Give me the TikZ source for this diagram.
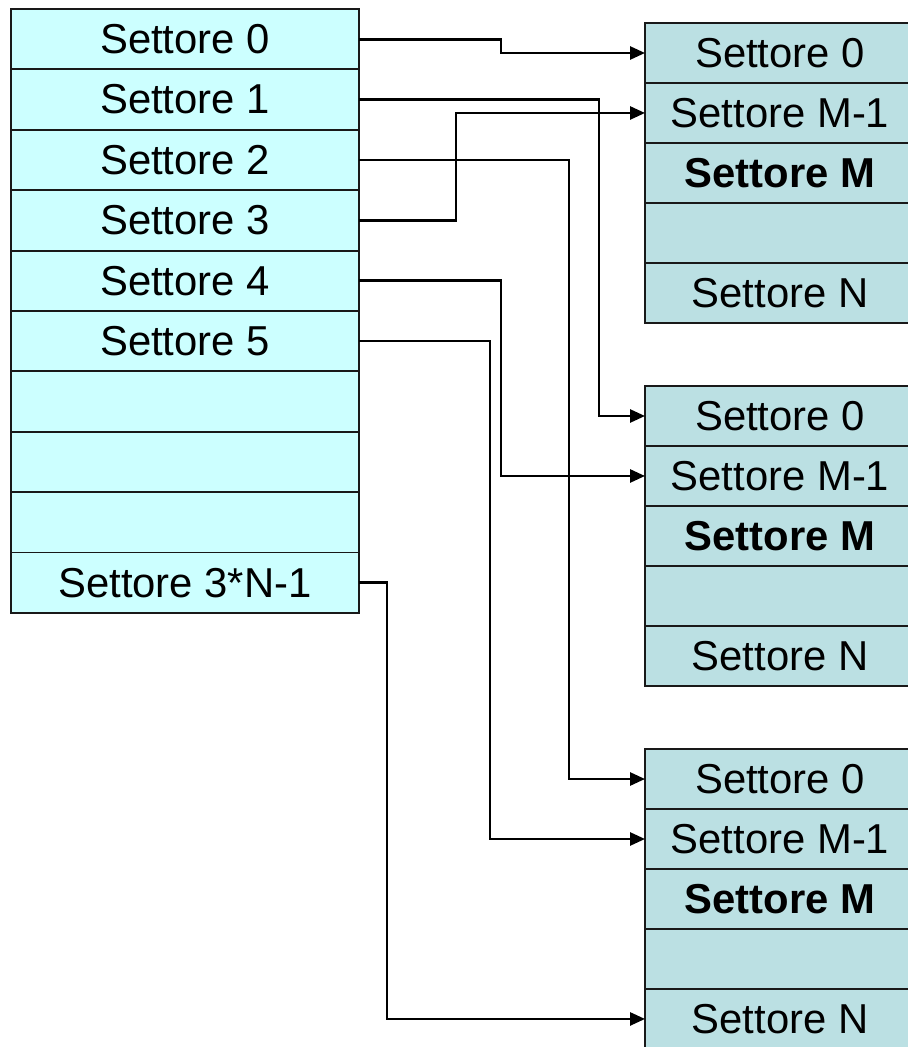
\documentclass[tikz,border=0pt]{standalone}
\usepackage{fontspec}
\setmainfont{Liberation Sans}
\usepackage{tikz}
\usetikzlibrary{positioning, arrows.meta}
\definecolor{diskfill}{HTML}{CCFFFF}
\definecolor{partfill}{HTML}{BBE0E3}

\begin{document}
\begin{tikzpicture}[
        x=0.02cm, y=-0.02cm,
        sec/.style={rectangle,draw=black!90,line width=1.1pt,outer sep=0pt,inner sep=0pt,
          fill=diskfill,minimum width=6.96cm,minimum height=1.208cm,
          font=\fontsize{23.8}{28}\selectfont},
        psec/.style={sec,fill=partfill,minimum width=5.4cm,minimum height=1.2cm},
        link/.style={line width=1.5pt,-{Triangle[length=0.3cm,width=0.26cm]}},
        node distance=0pt
      ]
      \useasboundingbox (0,0) rectangle (908,1047);
      \node[sec] (s0) at (185,39.2) {Settore 0};
      \node[sec] (s1) [below=of s0] {Settore 1};
      \node[sec] (s2) [below=of s1] {Settore 2};
      \node[sec] (s3) [below=of s2] {Settore 3};
      \node[sec] (s4) [below=of s3] {Settore 4};
      \node[sec] (s5) [below=of s4] {Settore 5};
      \node[sec] (s6) [below=of s5] {};
      \node[sec] (s7) [below=of s6] {};
      \node[sec] (s8) [below=of s7] {};
      \node[sec] (s9) [below=of s8] {Settore 3*N-1};
      \node[psec] (a0) at (780,53) {Settore 0};
      \node[psec] (a1) [below=of a0] {Settore M-1};
      \node[psec] (a2) [below=of a1] {\bfseries Settore M};
      \node[psec] (a3) [below=of a2] {};
      \node[psec] (a4) [below=of a3] {Settore N};
      \node[psec] (b0) at (780,416) {Settore 0};
      \node[psec] (b1) [below=of b0] {Settore M-1};
      \node[psec] (b2) [below=of b1] {\bfseries Settore M};
      \node[psec] (b3) [below=of b2] {};
      \node[psec] (b4) [below=of b3] {Settore N};
      \node[psec] (c0) at (780,779) {Settore 0};
      \node[psec] (c1) [below=of c0] {Settore M-1};
      \node[psec] (c2) [below=of c1] {\bfseries Settore M};
      \node[psec] (c3) [below=of c2] {};
      \node[psec] (c4) [below=of c3] {Settore N};
      \draw[link] (s0.east) -- ++(142,0) |- (a0.west);
      \draw[link] (s1.east) -- ++(240,0) |- (b0.west);
      \draw[link] (s2.east) -- ++(210,0) |- (c0.west);
      \draw[link] (s3.east) -- ++(97,0) |- (a1.west);
      \draw[link] (s4.east) -- ++(142,0) |- (b1.west);
      \draw[link] (s5.east) -- ++(131,0) |- (c1.west);
      \draw[link] (s9.east) -- ++(28,0) |- (c4.west);
    \end{tikzpicture}
\end{document}
